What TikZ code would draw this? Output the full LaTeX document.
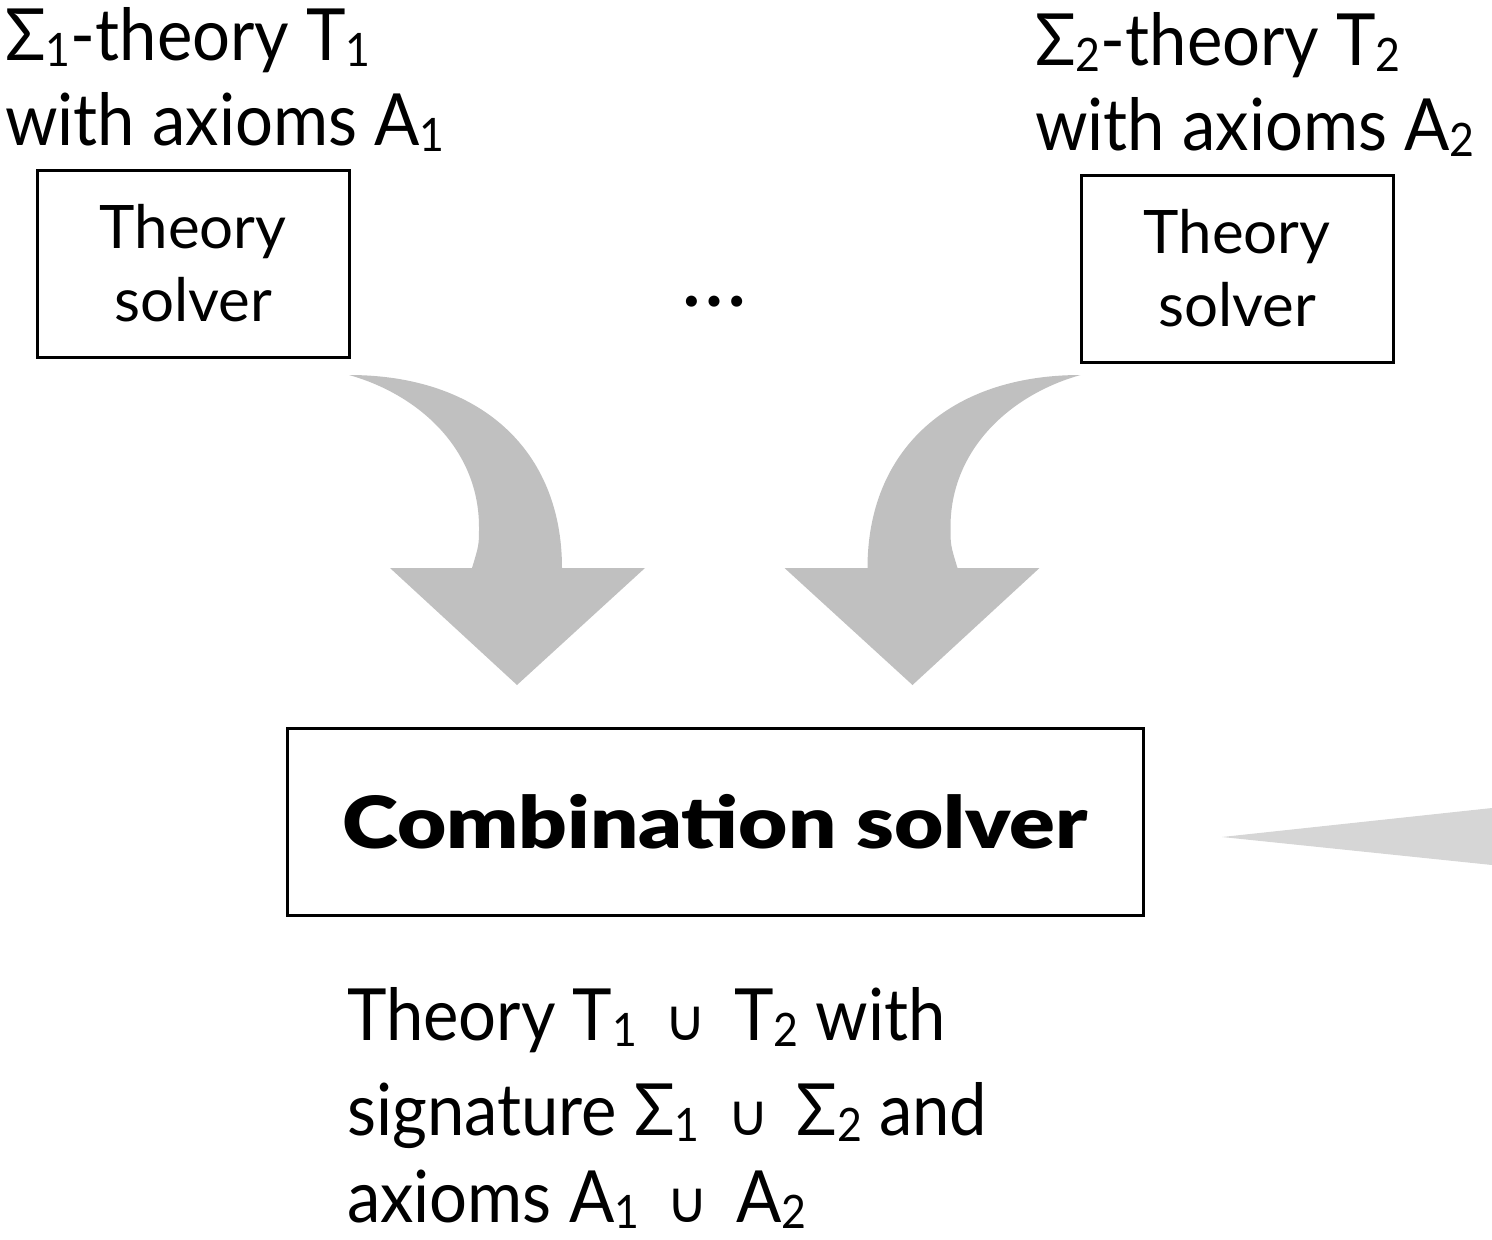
\documentclass[tikz,border=0pt]{standalone}
\usepackage{graphicx}
\usepackage{fontspec}
\setmainfont{Lato}
\newfontfamily\lblfont{Lato}[FakeStretch=0.93]
\newfontfamily\combfont{Lato Black}[FakeStretch=1.18]
\newfontfamily\cupfont{DejaVu Sans}
\newcommand{\idx}[1]{\raisebox{-0.09em}{\scalebox{0.64}{#1}}}
\newcommand{\ucup}{\hspace{0.38em}{\cupfont\scalebox{0.8}{∪}}\hspace{0.38em}}
\definecolor{arrowgray}{HTML}{C0C0C0}
\definecolor{wedgegray}{HTML}{D6D6D6}
\tikzset{
  solverbox/.style={draw, line width=3pt, minimum width=312pt, minimum height=187pt, align=center, font=\fontsize{60}{73}\selectfont},
  theorylbl/.style={inner sep=0pt, anchor=base west, font=\lblfont\fontsize{72}{85}\selectfont},
  bigarrow/.style={fill=arrowgray}
}
\begin{document}
\begin{tikzpicture}[x=1pt, y=-1pt]
\useasboundingbox (0,0) rectangle (1492,1240);

% Theories (top)
\node[theorylbl] (th1a) at (5,60) {Σ\idx{1}-theory T\idx{1}};
\node[theorylbl] (th1b) at (5,145) {with axioms A\idx{1}};
\node[solverbox] (solv1) at (193,263.5) {Theory\\solver};

\node[theorylbl] (th2a) at (1035,65) {Σ\idx{2}-theory T\idx{2}};
\node[theorylbl] (th2b) at (1035,150) {with axioms A\idx{2}};
\node[solverbox] (solv2) at (1237,268.5) {Theory\\solver};

\node[anchor=base, font=\fontsize{88}{100}\selectfont] (dots) at (714,306) {\dots};

% Curved arrows
\fill[bigarrow] (349,375) .. controls (480,375) and (562,450) .. (562,568)
  -- (645,568) -- (517,685) -- (390,568) -- (472,568)
  .. controls (479,545) .. (479,527) .. controls (479,450) and (420,395) .. cycle;
\begin{scope}[xshift=1429.5pt, xscale=-1]
\fill[bigarrow] (349,375) .. controls (480,375) and (562,450) .. (562,568)
  -- (645,568) -- (517,685) -- (390,568) -- (472,568)
  .. controls (479,545) .. (479,527) .. controls (479,450) and (420,395) .. cycle;
\end{scope}

% Combination (bottom)
\node[draw, line width=3pt, minimum width=856pt, minimum height=187pt, font=\combfont\fontsize{72}{85}\selectfont] (comb) at (715,821.5) {Combination solver};

\fill[fill=wedgegray] (1222,837) -- (1492,808) -- (1492,865) -- cycle;

\node[theorylbl] (res1) at (347,1040) {Theory T\idx{1}\ucup T\idx{2} with};
\node[theorylbl] (res2) at (347,1135) {signature Σ\idx{1}\ucup Σ\idx{2} and};
\node[theorylbl] (res3) at (347,1222) {axioms A\idx{1}\ucup A\idx{2}};

\end{tikzpicture}
\end{document}
